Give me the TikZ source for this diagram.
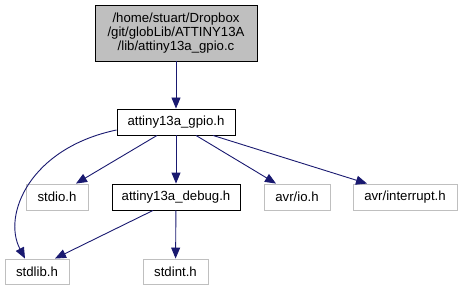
\documentclass[tikz,border=0pt]{standalone}
\usepackage{fontspec}
\setmainfont{Liberation Sans}
\usetikzlibrary{arrows.meta}
\definecolor{edgeblue}{HTML}{191970}
\definecolor{lightbox}{HTML}{BFBFBF}

\begin{document}
\begin{tikzpicture}[x=1pt, y=-1pt,
    file/.style={draw=black, line width=0.9pt, fill=white, inner sep=0pt,
      minimum height=26pt, font=\fontsize{13.2}{15.5}\selectfont},
    extfile/.style={file, draw=lightbox},
    edge/.style={draw=edgeblue, line width=0.9pt, -{Triangle[length=11pt, width=9pt]}}]
      \useasboundingbox (0, 0) rectangle (462, 291);

      % the source file and the headers it pulls in
      \node[file, fill=lightbox, minimum width=162pt, minimum height=56pt, align=center,
        font=\fontsize{13.2}{14.3}\selectfont] (src) at (176, 33)
        {/home/stuart/Dropbox\\/git/globLib/ATTINY13A\\/lib/attiny13a\_gpio.c};
      \node[file, minimum width=118pt] (gpio) at (176, 122) {attiny13a\_gpio.h};
      \node[extfile, minimum width=62pt] (stdio) at (57, 197) {stdio.h};
      \node[file, minimum width=128pt] (debug) at (176, 197) {attiny13a\_debug.h};
      \node[extfile, minimum width=66pt] (avrio) at (297, 197) {avr/io.h};
      \node[extfile, minimum width=104pt] (intr) at (405, 197) {avr/interrupt.h};
      \node[extfile, minimum width=64pt, minimum height=25pt] (stdlib) at (37, 271.5) {stdlib.h};
      \node[extfile, minimum width=65pt, minimum height=25pt] (stdint) at (175.5, 271.5) {stdint.h};

      \draw[edge] (src) -- (gpio);
      \draw[edge] ([xshift=-19pt]gpio.south) -- ([xshift=19pt]stdio.north);
      \draw[edge] (gpio) -- (debug);
      \draw[edge] ([xshift=20pt]gpio.south) -- ([xshift=-21pt]avrio.north);
      \draw[edge] ([xshift=37pt]gpio.south) -- ([xshift=-38pt]intr.north);
      \draw[edge] ([yshift=-8pt]gpio.west) .. controls (30, 148) and (2, 215) .. ([xshift=-12pt]stdlib.north);
      \draw[edge] ([xshift=-23pt]debug.south) -- ([xshift=18pt]stdlib.north);
      \draw[edge] (debug) -- (stdint);
    \end{tikzpicture}
\end{document}
